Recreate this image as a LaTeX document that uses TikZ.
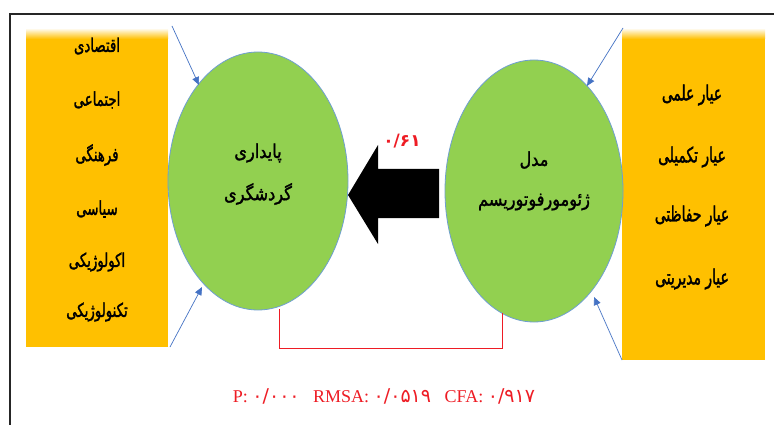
\documentclass[tikz,border=0pt]{standalone}
\usepackage{fontspec}
\setmainfont{Liberation Serif}
\newfontfamily\arabicfont[Script=Arabic]{DejaVu Sans}
\newfontfamily\arL[Script=Arabic,FakeStretch=0.7,FakeBold=1.5]{DejaVu Sans}
\newfontfamily\arR[Script=Arabic,FakeStretch=0.66,FakeBold=1.5]{DejaVu Sans}
\newfontfamily\arC[Script=Arabic,FakeStretch=0.85,FakeBold=1.5]{DejaVu Sans}
\TeXXeTstate=1
\usetikzlibrary{shapes.geometric,arrows.meta}
\definecolor{boxyellow}{HTML}{FFC000}
\definecolor{circgreen}{HTML}{92D050}
\definecolor{circline}{HTML}{6F9FD0}
\definecolor{arrblue}{HTML}{4472C4}
\definecolor{redtxt}{HTML}{EE1C24}
\tikzset{
  faL/.style={font=\arL\fontsize{19}{19}\selectfont, inner sep=0pt},
  faR/.style={font=\arR\fontsize{21}{21}\selectfont, inner sep=0pt},
  faC/.style={font=\arC\fontsize{19}{19}\selectfont, inner sep=0pt},
  bubble/.style={ellipse, fill=circgreen, draw=circline, line width=0.8pt},
  feed/.style={draw=arrblue, line width=0.7pt, -{Triangle[length=8pt,width=7pt]}},
  redline/.style={draw=redtxt, line width=0.8pt}
}
\begin{document}
\begin{tikzpicture}[x=1pt,y=-1pt]
\useasboundingbox (0,0) rectangle (774,425);
\fill[white] (0,0) rectangle (774,425);
% frame
\draw[line width=1.4pt, black!85] (10,425) -- (10,14) -- (774,14);
% yellow boxes
\fill[boxyellow] (26,38) rectangle (168,347);
\shade[top color=white, bottom color=boxyellow] (26,28) rectangle (168,39);
\fill[boxyellow] (622,38) rectangle (765,360);
\shade[top color=white, bottom color=boxyellow] (622,28) rectangle (765,39);
% left box texts
\node[faL] (l1) at (97,46) {\beginR اقتصادی\endR};
\node[faL] (l2) at (97,100) {\beginR اجتماعی\endR};
\node[faL] (l3) at (97,155) {\beginR فرهنگی\endR};
\node[faL] (l4) at (97,209) {\beginR سیاسی\endR};
\node[faL] (l5) at (97,262) {\beginR اکولوژیکی\endR};
\node[faL] (l6) at (97,312) {\beginR تکنولوژیکی\endR};
% right box texts
\node[faR] (r1) at (692,95) {\beginR عیار علمی\endR};
\node[faR] (r2) at (692,157) {\beginR عیار تکمیلی\endR};
\node[faR] (r3) at (692,216) {\beginR عیار حفاظتی\endR};
\node[faR] (r4) at (692,279) {\beginR عیار مدیریتی\endR};
% circles
\node[bubble, minimum width=180pt, minimum height=258pt] (sus) at (258,181) {};
\node[bubble, minimum width=178pt, minimum height=262pt] (geo) at (534,191) {};
\node[faC] (s1) at (258,153) {\beginR پایداری\endR};
\node[faC] (s2) at (258,194) {\beginR گردشگری\endR};
\node[faC] (g1) at (534,160) {\beginR مدل\endR};
\node[faC] (g2) at (534,202) {\beginR ژئومورفوتوریسم\endR};
% block arrow
\fill[black] (348,195) -- (378,145) -- (378,169) -- (439,169) -- (439,218) -- (378,218) -- (378,244) -- cycle;
\node[font=\arabicfont\bfseries\fontsize{17}{17}\selectfont, inner sep=0pt, text=redtxt] (coef) at (402,141) {۰/۶۱};
% feed arrows
\coordinate (lt) at (172,26);
\coordinate (lte) at (199,85);
\coordinate (lb) at (170,347);
\coordinate (lbe) at (202,287);
\coordinate (rt) at (623,28);
\coordinate (rte) at (587,86);
\coordinate (rb) at (622,360);
\coordinate (rbe) at (594,297);
\draw[feed] (lt) -- (lte);
\draw[feed] (lb) -- (lbe);
\draw[feed] (rt) -- (rte);
\draw[feed] (rb) -- (rbe);
% red bracket
\coordinate (b1) at (279,309);
\coordinate (b2) at (502,313);
\draw[redline] (b1) -- (279,348) -- (502,348) -- (b2);
% fit indices
\node[text=redtxt, font=\fontsize{18}{18}\selectfont, inner sep=0pt] (fit) at (384,396)
  {P: {\arabicfont\fontsize{19}{19}\selectfont ۰/۰۰۰}\enspace\ RMSA: {\arabicfont\fontsize{19}{19}\selectfont ۰/۰۵۱۹}\enspace\ CFA: {\arabicfont\fontsize{19}{19}\selectfont ۰/۹۱۷}};
\end{tikzpicture}
\end{document}
